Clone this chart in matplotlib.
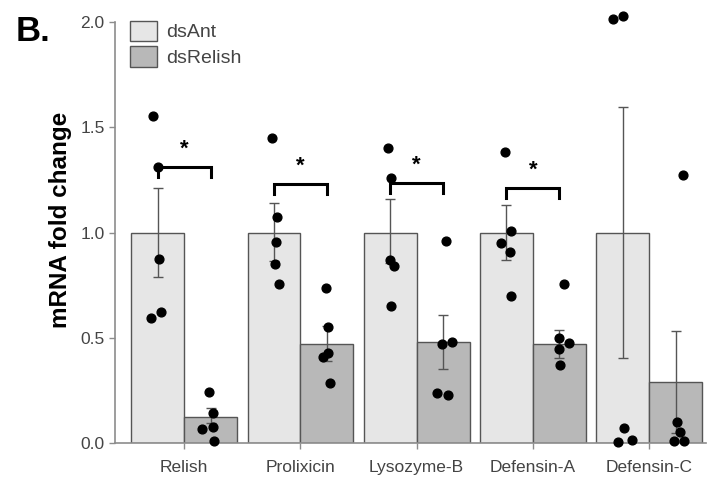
import matplotlib
matplotlib.use("Agg")
import matplotlib.pyplot as plt
import numpy as np

plt.rcParams['font.family'] = ['Liberation Sans', 'DejaVu Sans']

genes = ['Relish', 'Prolixicin', 'Lysozyme-B', 'Defensin-A', 'Defensin-C']
groups = ['dsAnt', 'dsRelish']

# bar means
ant_mean = [1.0, 1.0, 1.0, 1.0, 1.0]
rel_mean = [0.123, 0.471, 0.479, 0.471, 0.29]

# error bar ends (lower, upper)
ant_lo = [0.791, 0.867, 0.858, 0.87, 0.404]
ant_hi = [1.214, 1.141, 1.158, 1.131, 1.598]
rel_lo = [0.095, 0.391, 0.351, 0.407, 0.047]
rel_hi = [0.166, 0.557, 0.609, 0.538, 0.535]

# individual points (value, x jitter)
ant_pts = [
    [1.555, 1.313, 0.875, 0.622, 0.594],
    [1.45, 1.076, 0.957, 0.85, 0.756],
    [1.404, 1.258, 0.870, 0.842, 0.652],
    [1.383, 1.01, 0.95, 0.908, 0.70],
    [2.015, 2.029, 0.071, 0.008, 0.016],
]
ant_jit = [
    [-0.04, 0.0, 0.01, 0.026, -0.054],
    [-0.016, 0.027, 0.021, 0.013, 0.042],
    [-0.023, 0.009, 0.0, 0.029, 0.011],
    [-0.009, 0.04, -0.043, 0.029, 0.043],
    [-0.083, 0.003, 0.009, -0.04, 0.08],
]
rel_pts = [
    [0.245, 0.142, 0.079, 0.068, 0.011],
    [0.739, 0.551, 0.427, 0.408, 0.288],
    [0.96, 0.47, 0.479, 0.237, 0.229],
    [0.755, 0.499, 0.475, 0.446, 0.372],
    [1.276, 0.10, 0.052, 0.012, 0.012],
]
rel_jit = [
    [-0.01, 0.019, 0.024, -0.073, 0.033],
    [-0.009, 0.006, 0.009, -0.034, 0.029],
    [0.026, -0.011, 0.075, -0.054, 0.043],
    [0.037, 0.0, 0.08, -0.003, 0.006],
    [0.062, 0.01, 0.039, -0.017, 0.076],
]

# significance brackets
sig_idx = [0, 1, 2, 3]
sig_y = [1.31, 1.23, 1.235, 1.21]

x = np.arange(len(genes))
w = 0.455
off = w / 2

fig = plt.figure(figsize=(7.07, 4.79), dpi=100)
ax = fig.add_axes([0.1627, 0.0745, 0.836, 0.8795])

ax.bar(x - off, ant_mean, w, color='#e6e6e6', edgecolor='#555555', linewidth=1.0, label=groups[0], zorder=1)
ax.bar(x + off, rel_mean, w, color='#b8b8b8', edgecolor='#555555', linewidth=1.0, label=groups[1], zorder=1)

for i in range(len(genes)):
    ax.errorbar(x[i] - off, ant_mean[i], yerr=[[ant_mean[i] - ant_lo[i]], [ant_hi[i] - ant_mean[i]]],
                color='#555555', elinewidth=1.0, capsize=3.5, capthick=1.0, zorder=2)
    ax.errorbar(x[i] + off, rel_mean[i], yerr=[[rel_mean[i] - rel_lo[i]], [rel_hi[i] - rel_mean[i]]],
                color='#555555', elinewidth=1.0, capsize=3.5, capthick=1.0, zorder=2)
    ax.scatter(x[i] - off + np.array(ant_jit[i]), ant_pts[i], s=40, color='black', zorder=3, clip_on=False)
    ax.scatter(x[i] + off + np.array(rel_jit[i]), rel_pts[i], s=40, color='black', zorder=3, clip_on=False)

for i, yb in zip(sig_idx, sig_y):
    x1, x2 = x[i] - off, x[i] + off
    ax.plot([x1, x1, x2, x2], [yb - 0.045, yb, yb, yb - 0.045], color='black', lw=2.2,
            solid_joinstyle='miter', zorder=4)
    ax.text((x1 + x2) / 2, yb + 0.035, '*', ha='center', va='bottom', fontsize=16, fontweight='bold')

ax.set_xlim(-0.595, 4.49)
ax.set_ylim(0, 2.0)
ax.set_yticks([0, 0.5, 1.0, 1.5, 2.0])
ax.set_yticklabels(['0.0', '0.5', '1.0', '1.5', '2.0'])
ax.set_xticks(x)
ax.set_xticklabels(genes)
ax.tick_params(axis='both', colors='#8c8c8c', labelcolor='#444444', labelsize=12.5, length=4, width=1.0)
ax.tick_params(axis='x', pad=8)

for s in ['top', 'right']:
    ax.spines[s].set_visible(False)
for s in ['left', 'bottom']:
    ax.spines[s].set_color('#8c8c8c')
    ax.spines[s].set_linewidth(1.2)

ax.set_ylabel('mRNA fold change', fontsize=17.5, fontweight='bold')
ax.yaxis.set_label_coords(-0.072, 0.53)

leg = ax.legend(loc='upper left', bbox_to_anchor=(-0.005, 1.045), frameon=False, fontsize=14,
                handlelength=1.4, handleheight=1.25, handletextpad=0.5, labelspacing=0.25,
                labelcolor='#444444')

fig.text(0.022, 0.915, 'B.', fontsize=25, fontweight='bold')

fig.savefig('out.png', dpi=100)
